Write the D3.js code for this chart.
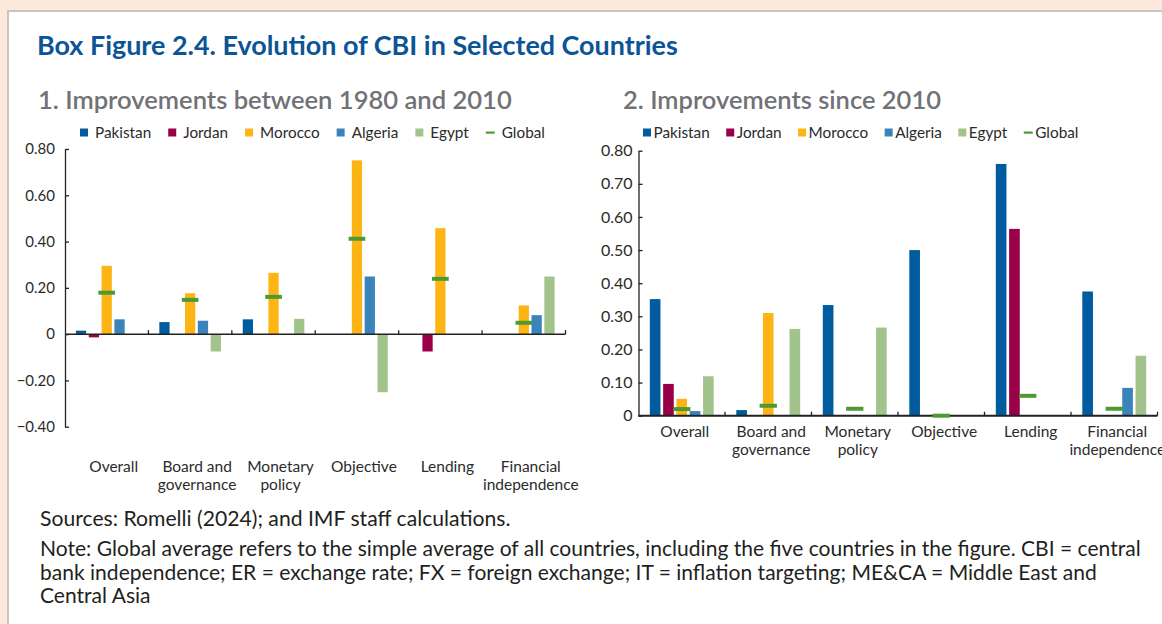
<!DOCTYPE html>
<html>
<head>
<meta charset="utf-8">
<script src="https://cdn.jsdelivr.net/npm/d3@7"></script>
<style>
  html, body { margin: 0; padding: 0; background: #fde8dc; }
  svg { display: block; }
  text { font-family: Lato, "Noto Sans", sans-serif; }
</style>
</head>
<body>
<svg id="chart" width="1162" height="624"></svg>
<script>
// ====================================================================
// data
var countries = ["Pakistan", "Jordan", "Morocco", "Algeria", "Egypt"];
var categories = ["Overall", "Board and governance", "Monetary policy",
  "Objective", "Lending", "Financial independence"];
var category_lines = [["Overall"], ["Board and", "governance"], ["Monetary", "policy"],
  ["Objective"], ["Lending"], ["Financial", "independence"]];

// panel 1: improvements between 1980 and 2010 (one value per category)
var p1_pakistan = [0.015, 0.052, 0.064, 0, 0, 0];
var p1_jordan   = [-0.014, 0, 0, 0, -0.075, 0];
var p1_morocco  = [0.295, 0.177, 0.265, 0.751, 0.458, 0.124];
var p1_algeria  = [0.064, 0.058, 0, 0.249, 0, 0.082];
var p1_egypt    = [0, -0.075, 0.066, -0.251, 0, 0.249];
var p1_global   = [0.179, 0.148, 0.161, 0.412, 0.239, 0.049];
var p1_ticks    = [-0.4, -0.2, 0, 0.2, 0.4, 0.6, 0.8];

// panel 2: improvements since 2010
var p2_pakistan = [0.352, 0.017, 0.334, 0.500, 0.760, 0.375];
var p2_jordan   = [0.096, 0, 0, 0, 0.564, 0];
var p2_morocco  = [0.051, 0.310, 0, 0, 0, 0];
var p2_algeria  = [0.014, 0, 0, 0, 0, 0.084];
var p2_egypt    = [0.119, 0.262, 0.266, 0, 0, 0.181];
var p2_global   = [0.020, 0.030, 0.021, 0, 0.060, 0.021];
var p2_ticks    = [0, 0.1, 0.2, 0.3, 0.4, 0.5, 0.6, 0.7, 0.8];

// ====================================================================
// globals
var colors = ["#005c9f", "#990049", "#fdb515", "#3b84bb", "#a3c38d"];
var global_color = "#4e9a32";
var axis_color = "#222222";
var text_color = "#2b2b2b";
var legend_font = 15.3;

var svg = d3.select("#chart");

// page + card
svg.append("rect").attr("width", 1162).attr("height", 624).attr("fill", "#fde8dc");
svg.append("rect")
  .attr("x", 8).attr("y", 11)
  .attr("width", 1300).attr("height", 800)
  .attr("fill", "#ffffff")
  .attr("stroke", "#c6c6c6")
  .attr("stroke-width", 2);

// fit a text node to a target width by scaling its font size
function fn_fit(sel, target) {
  var w = sel.node().getComputedTextLength();
  var fs = parseFloat(sel.attr("font-size"));
  sel.attr("font-size", fs * target / w);
  return fs * target / w;
}

// ====================================================================
// titles
var title = svg.append("text")
  .attr("x", 37).attr("y", 55)
  .attr("font-size", 23).attr("font-weight", 700)
  .attr("fill", "#0b5597")
  .text("Box Figure 2.4. Evolution of CBI in Selected Countries");
fn_fit(title, 641);

var sub1 = svg.append("text")
  .attr("x", 38).attr("y", 108.5)
  .attr("font-size", 23).attr("font-weight", 600)
  .attr("fill", "#707276")
  .text("1. Improvements between 1980 and 2010");
fn_fit(sub1, 474);

var sub2 = svg.append("text")
  .attr("x", 623).attr("y", 108.5)
  .attr("font-size", 23).attr("font-weight", 600)
  .attr("fill", "#707276")
  .text("2. Improvements since 2010");
fn_fit(sub2, 318);

// ====================================================================
// legend (flow layout)
function fn_legend(x_start, y_mid, text_gap, item_gap) {
  var g = svg.append("g");
  var x = x_start;
  countries.forEach(function(c, i) {
    g.append("rect")
      .attr("x", x).attr("y", y_mid - 4)
      .attr("width", 8).attr("height", 8)
      .attr("fill", colors[i]);
    var t = g.append("text")
      .attr("x", x + 8 + text_gap).attr("y", y_mid + 5)
      .attr("font-size", legend_font).attr("fill", text_color)
      .text(c);
    x = x + 8 + text_gap + t.node().getComputedTextLength() + item_gap;
  });
  g.append("rect")
    .attr("x", x).attr("y", y_mid - 1)
    .attr("width", 9).attr("height", 2.2)
    .attr("fill", global_color);
  g.append("text")
    .attr("x", x + 9 + text_gap).attr("y", y_mid + 5)
    .attr("font-size", legend_font).attr("fill", text_color)
    .text("Global");
}

// ====================================================================
// panel
function fn_panel(cfg) {
  var g = svg.append("g");

  var x0 = d3.scaleBand()
    .domain(categories)
    .range(cfg.x_range)
    .padding(0);

  var x1 = d3.scaleBand()
    .domain(countries)
    .range([0, x0.bandwidth()])
    .paddingInner(0.2)
    .paddingOuter(0.85);

  var y = d3.scaleLinear()
    .domain(cfg.y_domain)
    .range(cfg.y_range);

  var fmt = function(d) { return d === 0 ? "0" : d3.format(".2f")(d); };

  // y axis
  var y_axis = g.append("g")
    .attr("transform", "translate(" + cfg.x_range[0] + ",0)")
    .call(d3.axisLeft(y).tickValues(cfg.ticks).tickFormat(fmt)
      .tickSizeInner(-4).tickSizeOuter(0).tickPadding(cfg.tick_pad));
  y_axis.select(".domain").attr("stroke", axis_color).attr("stroke-width", 1.3);
  y_axis.selectAll(".tick line").attr("stroke", axis_color).attr("stroke-width", 1.3);
  y_axis.selectAll(".tick text")
    .attr("fill", text_color)
    .style("font-family", "Lato, 'Noto Sans', sans-serif")
    .style("font-size", cfg.tick_font + "px");

  // bars
  var rows = [];
  categories.forEach(function(cat, ci) {
    countries.forEach(function(c, k) {
      rows.push({cat: cat, country: c, k: k, value: cfg.values[k][ci]});
    });
  });

  g.append("g").selectAll("rect")
    .data(rows.filter(function(d) { return d.value !== 0; }))
    .enter()
    .append("rect")
      .attr("x", function(d) { return x0(d.cat) + x1(d.country); })
      .attr("width", x1.bandwidth())
      .attr("y", function(d) { return y(Math.max(0, d.value)); })
      .attr("height", function(d) { return Math.abs(y(d.value) - y(0)); })
      .attr("fill", function(d) { return colors[d.k]; });

  // zero line + category ticks
  g.append("line")
    .attr("x1", cfg.x_range[0]).attr("x2", cfg.x_range[1])
    .attr("y1", y(0)).attr("y2", y(0))
    .attr("stroke", axis_color).attr("stroke-width", cfg.zero_width);

  g.append("g").selectAll("line")
    .data(categories)
    .enter()
    .append("line")
      .attr("x1", function(d) { return x0(d) + x0.bandwidth(); })
      .attr("x2", function(d) { return x0(d) + x0.bandwidth(); })
      .attr("y1", y(0)).attr("y2", y(0) - 4)
      .attr("stroke", axis_color).attr("stroke-width", 1.3);

  // global markers
  g.append("g").selectAll("rect")
    .data(categories)
    .enter()
    .append("rect")
      .attr("x", function(d) { return x0(d) + x0.bandwidth() / 2 - x1.step() * 0.65; })
      .attr("width", x1.step() * 1.3)
      .attr("y", function(d, i) { return y(cfg.global[i]) - 2; })
      .attr("height", 4)
      .attr("fill", global_color);

  // category labels
  var lab = g.append("g").selectAll("text")
    .data(categories)
    .enter()
    .append("text")
      .attr("x", function(d) { return x0(d) + x0.bandwidth() / 2 + cfg.label_dx; })
      .attr("y", cfg.label_y)
      .attr("text-anchor", "middle")
      .attr("font-size", 15.5)
      .attr("fill", text_color);

  lab.each(function(d, i) {
    var t = d3.select(this);
    category_lines[i].forEach(function(line, j) {
      t.append("tspan")
        .attr("x", t.attr("x"))
        .attr("dy", j === 0 ? 0 : 18)
        .text(line);
    });
  });
}

fn_legend(80, 132.5, 7, 17);
fn_legend(643, 132.5, 2.5, 16.5);

fn_panel({
  x_range: [65, 565.5],
  y_domain: [-0.4, 0.8],
  y_range: [426.7, 149],
  ticks: p1_ticks,
  tick_pad: 10,
  tick_font: 15,
  zero_width: 1.5,
  values: [p1_pakistan, p1_jordan, p1_morocco, p1_algeria, p1_egypt],
  global: p1_global,
  label_y: 472,
  label_dx: 7
});

fn_panel({
  x_range: [638.5, 1157.5],
  y_domain: [0, 0.8],
  y_range: [415.7, 150.7],
  ticks: p2_ticks,
  tick_pad: 6,
  tick_font: 16,
  zero_width: 2,
  values: [p2_pakistan, p2_jordan, p2_morocco, p2_algeria, p2_egypt],
  global: p2_global,
  label_y: 437,
  label_dx: 3
});

// ====================================================================
// footer
var sources = svg.append("text")
  .attr("x", 40).attr("y", 526)
  .attr("font-size", 17).attr("fill", "#231f20")
  .text("Sources: Romelli (2024); and IMF staff calculations.");
fn_fit(sources, 471);

var note_lines = [
  "Note: Global average refers to the simple average of all countries, including the five countries in the figure. CBI = central",
  "bank independence; ER = exchange rate; FX = foreign exchange; IT = inflation targeting; ME&CA = Middle East and",
  "Central Asia"
];
var note = svg.append("text")
  .attr("x", 40).attr("y", 556)
  .attr("font-size", 17).attr("fill", "#231f20")
  .text(note_lines[0]);
var note_fs = fn_fit(note, 1101);

note_lines.slice(1).forEach(function(line, i) {
  svg.append("text")
    .attr("x", 40).attr("y", 556 + 23.5 * (i + 1))
    .attr("font-size", note_fs).attr("fill", "#231f20")
    .text(line);
});
</script>
</body>
</html>
